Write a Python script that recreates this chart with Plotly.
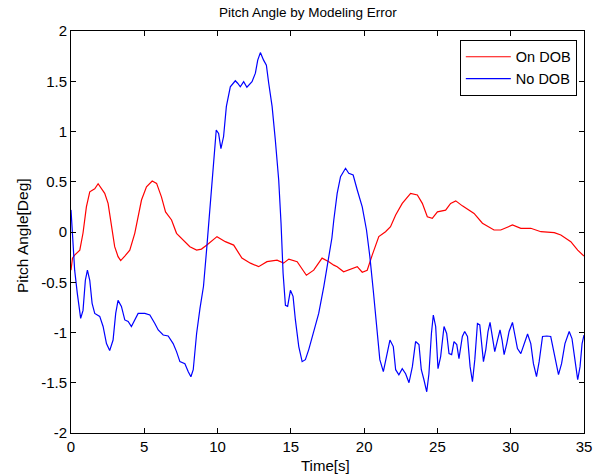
import plotly.graph_objects as go

# On DOB (red)
t_on = [0.0, 0.1, 0.25, 0.6, 0.82, 1.05, 1.28, 1.62, 1.85, 2.07, 2.3, 2.53, 2.76, 2.98, 3.21, 3.39, 3.67,
        4.01, 4.35, 4.58, 4.81, 5.15, 5.54, 5.84, 6.17, 6.45, 6.86, 7.2, 7.66, 8.11, 8.57, 8.9,
        9.27, 9.96, 10.53, 11.1, 11.66, 12.24, 12.8, 13.37, 14.06, 14.5, 14.86, 15.43, 16.06, 16.56,
        17.13, 17.59, 17.93, 18.16, 18.6, 19.07, 19.53, 19.87, 20.21, 20.55, 21.0, 21.46, 21.8, 22.15,
        22.6, 23.17, 23.63, 23.97, 24.31, 24.65, 25.0, 25.56, 25.9, 26.25, 26.7, 27.5, 28.07, 28.86,
        29.32, 30.12, 30.69, 31.37, 32.06, 32.97, 33.42, 34.1, 34.57, 35.0]
y_on = [-0.38, -0.26, -0.23, -0.18, -0.01, 0.25, 0.40, 0.43, 0.48, 0.43, 0.385, 0.285, 0.087, -0.146, -0.245, -0.285, -0.24,
        -0.18, -0.013, 0.152, 0.318, 0.45, 0.507, 0.484, 0.35, 0.20, 0.12, -0.013, -0.08, -0.146, -0.18, -0.17,
        -0.13, -0.046, -0.096, -0.13, -0.26, -0.31, -0.345, -0.295, -0.28, -0.31, -0.27, -0.295, -0.43, -0.38,
        -0.26, -0.295, -0.33, -0.345, -0.395, -0.37, -0.345, -0.40, -0.38, -0.23, -0.046, 0.003, 0.053, 0.17,
        0.285, 0.385, 0.368, 0.285, 0.152, 0.136, 0.20, 0.218, 0.285, 0.31, 0.26, 0.185, 0.087, 0.02,
        0.02, 0.07, 0.037, 0.037, 0.003, -0.007, -0.03, -0.096, -0.18, -0.24]

# No DOB (blue)
t_no = [0.0, 0.14, 0.25, 0.43, 0.66, 0.82, 0.98, 1.12, 1.28, 1.44, 1.62, 1.96, 2.19, 2.42, 2.64, 2.87, 3.05,
        3.21, 3.44, 3.67, 3.9, 4.12, 4.35, 4.58, 5.04, 5.38, 5.72, 5.95, 6.29, 6.63, 6.97, 7.2, 7.43,
        7.77, 8.0, 8.18, 8.34, 8.57, 8.8, 9.04, 9.27, 9.5, 9.73, 9.91, 10.07, 10.23, 10.41, 10.6, 10.87,
        11.21, 11.37, 11.55, 11.78, 12.0, 12.35, 12.58, 12.74, 12.92, 13.14, 13.33, 13.49, 13.72, 13.94,
        14.17, 14.33, 14.47, 14.63, 14.78, 14.97, 15.15, 15.31, 15.54, 15.77, 15.99, 16.22, 16.56, 16.9,
        17.25, 17.59, 17.8, 17.93, 18.16, 18.39, 18.73, 18.95, 19.25, 19.53, 19.87, 20.16, 20.39, 20.62,
        20.85, 21.07, 21.31, 21.53, 21.76, 21.99, 22.15, 22.37, 22.6, 22.83, 23.06, 23.29, 23.51, 23.74,
        23.9, 24.08, 24.27, 24.42, 24.59, 24.72, 24.88, 25.04, 25.22, 25.45, 25.63, 25.79, 25.97, 26.13,
        26.32, 26.47, 26.7, 26.86, 27.05, 27.23, 27.39, 27.55, 27.73, 27.89, 28.02, 28.14, 28.3, 28.45,
        28.59, 28.76, 28.91, 29.1, 29.27, 29.41, 29.55, 29.73, 29.89, 30.12, 30.3, 30.46, 30.69, 30.92,
        31.15, 31.37, 31.55, 31.76, 31.94, 32.17, 32.46, 32.73, 32.96, 33.26, 33.47, 33.7, 33.99, 34.18,
        34.38, 34.57, 34.73, 34.87, 35.0]
y_no = [0.22, -0.08, -0.38, -0.61, -0.86, -0.78, -0.48, -0.38, -0.48, -0.71, -0.81, -0.84, -0.94, -1.11, -1.18, -1.075, -0.81,
        -0.68, -0.74, -0.875, -0.89, -0.94, -0.875, -0.81, -0.81, -0.826, -0.91, -0.975, -1.025, -1.035, -1.11, -1.19, -1.29,
        -1.31, -1.39, -1.44, -1.37, -1.01, -0.76, -0.54, -0.146, 0.25, 0.65, 1.015, 0.98, 0.83, 0.95, 1.25, 1.445,
        1.505, 1.48, 1.445, 1.495, 1.44, 1.495, 1.58, 1.71, 1.785, 1.71, 1.66, 1.48, 1.25, 0.915,
        0.52, 0.087, -0.41, -0.73, -0.74, -0.58, -0.64, -0.875, -1.14, -1.29, -1.27, -1.17, -0.975, -0.81,
        -0.54, -0.245, -0.06, 0.12, 0.385, 0.55, 0.634, 0.584, 0.567, 0.418, 0.25, 0.02, -0.245, -0.577,
        -0.94, -1.27, -1.39, -1.24, -1.075, -1.14, -1.37, -1.42, -1.36, -1.41, -1.5, -1.34, -1.09, -1.12,
        -1.37, -1.47, -1.59, -1.41, -1.01, -0.826, -0.94, -1.36, -1.24, -0.94, -1.01, -1.21, -1.22, -1.09,
        -1.12, -1.26, -1.04, -0.99, -1.04, -1.34, -1.49, -1.27, -0.91, -0.925, -1.11, -1.29, -1.17, -0.99,
        -0.90, -1.04, -1.19, -1.075, -0.975, -1.075, -1.22, -1.11, -0.99, -0.90, -1.04, -1.16, -1.21, -1.11,
        -1.015, -1.11, -1.31, -1.44, -1.29, -1.04, -1.035, -1.04, -1.21, -1.42, -1.31, -1.11, -0.99, -1.06,
        -1.27, -1.47, -1.34, -1.11, -1.025]

x_ticks = [0, 5, 10, 15, 20, 25, 30, 35]
y_ticks = [-2, -1.5, -1, -0.5, 0, 0.5, 1, 1.5, 2]
y_tick_text = ["-2", "-1.5", "-1", "-0.5", "0", "0.5", "1", "1.5", "2"]

FONT = "Liberation Sans, Arial, sans-serif"

fig = go.Figure()
fig.add_trace(go.Scatter(x=t_on, y=y_on, mode="lines", name="On DOB",
                         line=dict(color="#ff0000", width=1.2)))
fig.add_trace(go.Scatter(x=t_no, y=y_no, mode="lines", name="No DOB",
                         line=dict(color="#0000ff", width=1.2)))

axis_common = dict(showgrid=False, zeroline=False, showline=True, linecolor="black", linewidth=1,
                   mirror="allticks", ticks="inside", ticklen=5, tickcolor="black", automargin=False,
                   tickfont=dict(family=FONT, size=15, color="black"))

fig.update_layout(
    width=605, height=474,
    margin=dict(l=71, r=21, t=31, b=41),
    paper_bgcolor="white", plot_bgcolor="white",
    title=dict(text="Pitch Angle by Modeling Error", x=0.509, xanchor="center", y=0.985, yanchor="top",
               font=dict(family=FONT, size=13.5, color="black")),
    xaxis=dict(range=[0, 35], tickvals=x_ticks, **axis_common),
    yaxis=dict(range=[-2, 2], tickvals=y_ticks, ticktext=y_tick_text, **axis_common),
    legend=dict(x=0.986, y=0.978, xanchor="right", yanchor="top", bgcolor="white",
                bordercolor="black", borderwidth=1, itemwidth=45,
                font=dict(family=FONT, size=14.5, color="black"), tracegroupgap=0),
    showlegend=True,
    annotations=[
        dict(text="Time[s]", xref="paper", yref="paper", x=0.497, y=-0.082, xanchor="center",
             yanchor="middle", showarrow=False, font=dict(family=FONT, size=15, color="black")),
        dict(text="Pitch Angle[Deg]", xref="paper", yref="paper", x=-0.0955, y=0.49, xanchor="center",
             yanchor="middle", textangle=-90, showarrow=False,
             font=dict(family=FONT, size=15.5, color="black")),
    ],
)

fig.write_html("out.html")
